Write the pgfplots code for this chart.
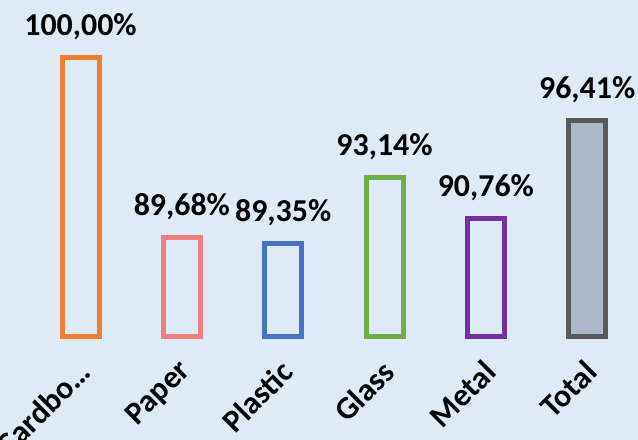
\documentclass[border=0pt]{standalone}
\usepackage{fontspec}
\setmainfont{Carlito}
\usepackage{pgfplots}
\pgfplotsset{compat=1.18}

\definecolor{bg}{HTML}{DEEAF6}
\definecolor{cOrange}{HTML}{ED7D31}
\definecolor{cPink}{HTML}{F08080}
\definecolor{cBlue}{HTML}{4472C4}
\definecolor{cGreen}{HTML}{70AD47}
\definecolor{cPurple}{HTML}{7030A0}
\definecolor{cGray}{HTML}{595959}
\definecolor{cTotal}{HTML}{ADB9CA}

\begin{document}
\begin{tikzpicture}
\path[use as bounding box, fill=bg] (-14.925bp,-52bp) rectangle (304.075bp,168bp);
\begin{axis}[
  at={(0,0)}, anchor=south west,
  scale only axis, width=304bp, height=168bp,
  xmin=-0.5, xmax=5.5, ymin=84, ymax=103.33,
  y coord trafo/.code={\pgfmathparse{#1-84}},
  y coord inv trafo/.code={\pgfmathparse{#1+84}},
  clip=false,
  axis line style={draw=none},
  ytick=\empty, major tick length=0pt,
  xtick={0,...,5},
  xticklabels={Cardbo…,Paper,Plastic,Glass,Metal,Total},
  xticklabel style={font=\fontsize{16}{19}\selectfont\bfseries,
    xshift=4.5bp, yshift=-12.8bp, rotate=45, anchor=east},
  ybar, bar shift=0pt, bar width=18.5bp,
  visualization depends on=rawy \as \rawy,
  nodes near coords={\pgfmathprintnumber{\rawy}\%},
  every node near coord/.append style={font=\fontsize{16}{19}\selectfont\bfseries,
    text=black, anchor=base, yshift=11bp},
  /pgf/number format/use comma,
  /pgf/number format/fixed,
  /pgf/number format/fixed zerofill,
  /pgf/number format/precision=2,
  /pgf/number format/1000 sep={},
  /pgf/number format/assume math mode=true,
]
\addplot[draw=cOrange, fill=none, line width=2.5bp] coordinates {(0,100.00)};
\addplot[draw=cPink, fill=none, line width=2.5bp] coordinates {(1,89.68)};
\addplot[draw=cBlue, fill=none, line width=2.5bp] coordinates {(2,89.35)};
\addplot[draw=cGreen, fill=none, line width=2.5bp] coordinates {(3,93.14)};
\addplot[draw=cPurple, fill=none, line width=2.5bp] coordinates {(4,90.76)};
\addplot[draw=cGray, fill=cTotal, line width=2.5bp] coordinates {(5,96.41)};
\end{axis}
\end{tikzpicture}
\end{document}
